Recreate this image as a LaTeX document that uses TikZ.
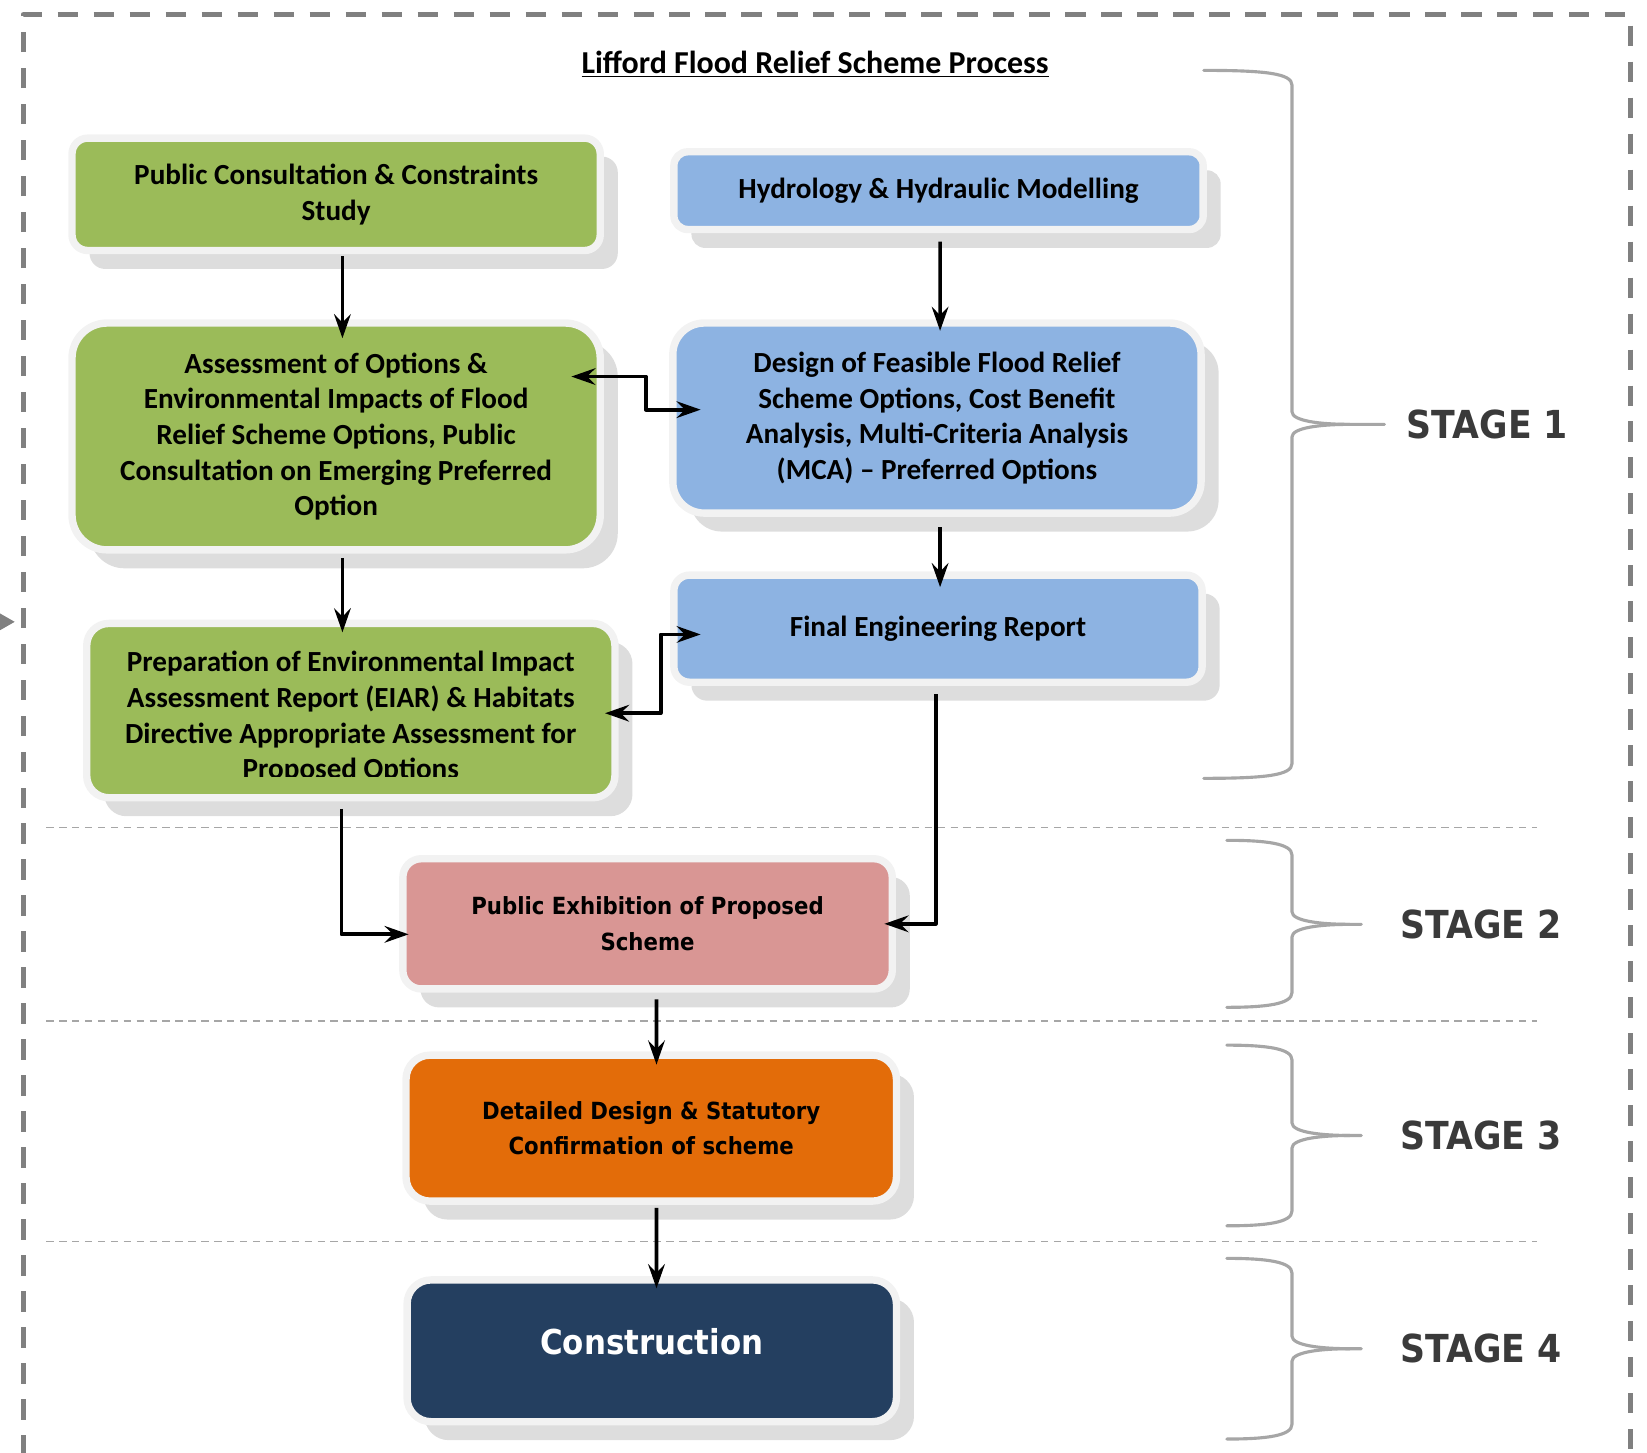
\documentclass[tikz,border=0pt]{standalone}
\usepackage{fontspec}
\setmainfont{Carlito}
\newfontfamily\stagefont[FakeStretch=0.9]{DejaVu Sans}
\usetikzlibrary{arrows.meta,calc,shadows}

\definecolor{boxgreen}{HTML}{9BBB59}
\definecolor{boxblue}{HTML}{8DB3E2}
\definecolor{boxpink}{HTML}{D99694}
\definecolor{boxorange}{HTML}{E36C09}
\definecolor{boxnavy}{HTML}{243F60}
\definecolor{framegray}{HTML}{F2F2F2}
\definecolor{shadegray}{HTML}{DDDDDD}
\definecolor{bracegray}{HTML}{A6A6A6}
\definecolor{stagegray}{HTML}{3A3A3A}
\definecolor{bordergray}{HTML}{808080}

\begin{document}
\begin{tikzpicture}[x=0.02cm,y=-0.02cm,line join=round,>={Stealth[length=13pt,width=9pt,inset=4.5pt]}]
	\tikzset{every node/.style={inner sep=0pt}}
	\tikzset{
		stepbox/.style={draw=framegray,line width=4pt,rounded corners=#1,align=center,
			font=\bfseries\fontsize{15.8}{19.3}\selectfont,
			drop shadow={shadow xshift=9.5pt,shadow yshift=-10pt,fill=shadegray,opacity=1}},
		greenbox/.style={stepbox=#1,fill=boxgreen},
		bluebox/.style={stepbox=#1,fill=boxblue},
		widebox/.style={font=\stagefont\bfseries\fontsize{12.8}{19.3}\selectfont},
		arr/.style={line width=2pt,black},
		brace/.style={bracegray,line width=1.7pt,line cap=round},
		stagelabel/.style={text=stagegray,font=\stagefont\bfseries\fontsize{20.9}{24}\selectfont},
		sepline/.style={bracegray,line width=0.8pt,dash pattern=on 4pt off 3pt}
	}
	\useasboundingbox (0,0) rectangle (1568,1383);
	% outer frame
	\begin{scope}
		\clip (0,0) rectangle (1568,1383);
		\draw[bordergray,line width=2.8pt,dash pattern=on 11pt off 8.5pt] (22,1420) -- (22,14) -- (1552,14) -- (1552,1420);
	\end{scope}
	\fill[bordergray] (0,584) -- (14,592) -- (0,600) -- cycle;
	\foreach \y in {788,972,1182}
	\draw[sepline] (44,\y) -- (1463,\y);
	
	\node[font=\bfseries\fontsize{17.3}{20}\selectfont] (title) at (776,61) {\underline{Lifford Flood Relief Scheme Process}};
	
	% stage 1
	\node[greenbox=8.5pt,minimum width=10.06cm,minimum height=2.14cm] (consult) at (320,185) {Public Consultation \& Constraints\\Study};
	\node[bluebox=7.5pt,minimum width=10.08cm,minimum height=1.48cm] (hydro) at (893.5,181.5) {Hydrology \& Hydraulic Modelling};
	\node[greenbox=19pt,minimum width=10.06cm,minimum height=4.32cm] (assess) at (320,415.5) {Assessment of Options \&\\Environmental Impacts of Flood\\Relief Scheme Options, Public\\Consultation on Emerging Preferred\\Option};
	\node[bluebox=17pt,minimum width=10.06cm,minimum height=3.62cm] (design) at (892,398) {Design of Feasible Flood Relief\\Scheme Options, Cost Benefit\\Analysis, Multi-Criteria Analysis\\(MCA) -- Preferred Options};
	\node[bluebox=8.5pt,minimum width=10.06cm,minimum height=2.04cm] (report) at (893,598.5) {Final Engineering Report};
	\node[greenbox=12pt,minimum width=10.06cm,minimum height=3.32cm] (eiar) at (334,676.5) {};
	\begin{scope}
		\clip (80,600) rectangle (590,739);
		\node[align=center,font=\bfseries\fontsize{15.8}{19.3}\selectfont] (eiartext) at (334,683) {Preparation of Environmental Impact\\Assessment Report (EIAR) \& Habitats\\Directive Appropriate Assessment for\\Proposed Options};
	\end{scope}
	
	% stages 2 to 4
	\node[stepbox=10pt,widebox,fill=boxpink,minimum width=9.32cm,minimum height=2.48cm] (exhibit) at (616.5,879.5) {Public Exhibition of Proposed\\Scheme};
	\node[stepbox=13pt,widebox,fill=boxorange,minimum width=9.34cm,minimum height=2.78cm] (detail) at (620,1074) {Detailed Design \& Statutory\\Confirmation of scheme};
	\node[stepbox=13pt,fill=boxnavy,text=white,font=\stagefont\bfseries\fontsize{18.6}{22}\selectfont,text depth=10.5pt,minimum width=9.32cm,minimum height=2.7cm] (build) at (620.5,1286) {Construction};
	
	% connectors
	\draw[arr,->] ($(consult.south)+(6,2)$) -- ($(assess.north)+(6,18)$);
	\draw[arr,->] ($(hydro.south)+(1.5,8)$) -- ($(design.north)+(3,11)$);
	\draw[arr,<->] ($(assess.east)+(-31,-57)$) -- ++(71,0) |- ($(design.west)+(30,-8)$);
	\draw[arr,->] ($(assess.south)+(6,4)$) -- ($(assess.south |- eiar.north)+(6,12)$);
	\draw[arr,->] ($(design.south)+(3,10)$) -- ($(report.north)+(2,15)$);
	\draw[arr,<->] ($(eiar.east)+(-13,2.5)$) -- ++(53,0) |- ($(report.west)+(29,5.5)$);
	\draw[arr,->] ($(eiar.south)+(-9,7)$) |- ($(exhibit.west)+(9,10)$);
	\draw[arr,->] ($(report.south)+(-2,8)$) |- ($(exhibit.east)+(-11,0)$);
	\draw[arr,->] ($(exhibit.south)+(8.5,6.5)$) -- ($(detail.north)+(5,12.5)$);
	\draw[arr,->] ($(detail.south)+(5,3)$) -- ($(build.north)+(4.5,11.5)$);
	
	% braces
	\foreach \t/\m/\b/\xl/\tip/\lx/\n in {67/404/741/1146/1318/1416/1,800/880/959/1168/1296/1410/2,995/1081/1167/1168/1296/1410/3,1198/1284/1370/1168/1296/1410/4}
	{
		\draw[brace] (\xl,\t) .. controls (1205,\t) and (1230,\t+3) .. (1230,\t+14) -- (1230,\m-12)
		.. controls (1230,\m-3) and (1258,\m) .. (1285,\m) -- (\tip,\m);
		\draw[brace] (1285,\m) .. controls (1258,\m) and (1230,\m+3) .. (1230,\m+12) -- (1230,\b-14)
		.. controls (1230,\b-3) and (1205,\b) .. (\xl,\b);
		\node[stagelabel] (stage\n) at (\lx,\m) {STAGE \n};
	}
\end{tikzpicture}
\end{document}
